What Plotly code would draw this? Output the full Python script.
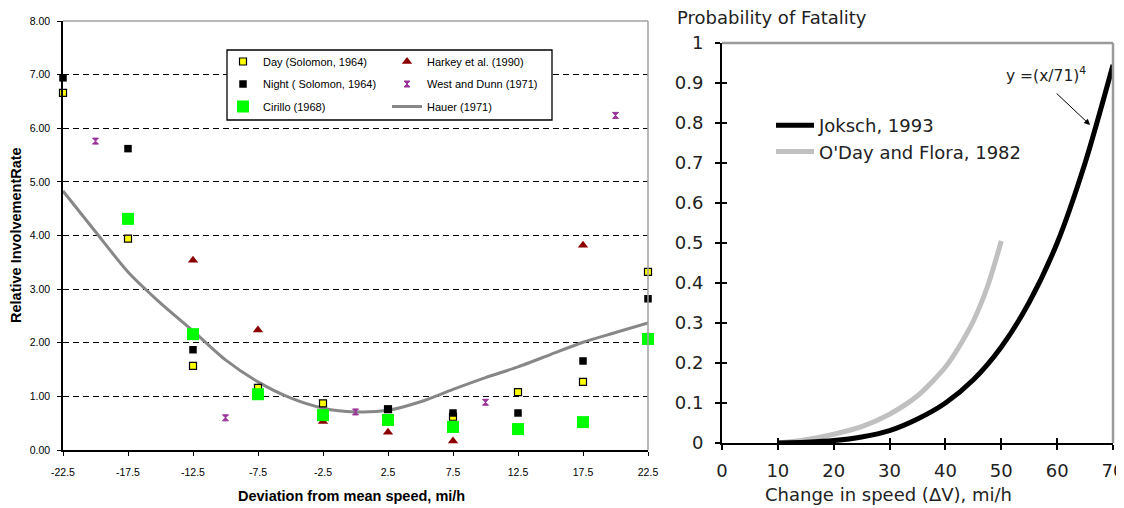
import plotly.graph_objects as go

# The page body has an 8px margin, so the figure is drawn 8px in from the window edge.
OFF = 8
W, H = 1124 - OFF, 508 - OFF

# ---------------- Left chart data ----------------
dev_ticks = [-22.5, -17.5, -12.5, -7.5, -2.5, 2.5, 7.5, 12.5, 17.5, 22.5]
dev_ticktext = ["-22.5", "-17.5", "-12.5", "-7.5", "-2.5", "2.5", "7.5", "12.5", "17.5", "22.5"]
rate_ticks = [0, 1, 2, 3, 4, 5, 6, 7, 8]

day_x = [-22.5, -17.5, -12.5, -7.5, -2.5, 2.5, 7.5, 12.5, 17.5, 22.5]
day_y = [6.66, 3.94, 1.57, 1.16, 0.87, 0.76, 0.62, 1.08, 1.27, 3.32]

night_x = [-22.5, -17.5, -12.5, -7.5, -2.5, 2.5, 7.5, 12.5, 17.5, 22.5]
night_y = [6.94, 5.62, 1.87, 1.06, 0.68, 0.76, 0.69, 0.69, 1.66, 2.82]

cirillo_x = [-17.5, -12.5, -7.5, -2.5, 2.5, 7.5, 12.5, 17.5, 22.5]
cirillo_y = [4.31, 2.16, 1.04, 0.65, 0.56, 0.43, 0.39, 0.52, 2.07]

harkey_x = [-12.5, -7.5, -2.5, 2.5, 7.5, 17.5]
harkey_y = [3.54, 2.24, 0.53, 0.33, 0.17, 3.82]

west_x = [-20, -10, 0, 10, 20]
west_y = [5.76, 0.60, 0.71, 0.89, 6.24]

hauer_x = [-22.5, -20, -17.5, -15, -12.5, -10, -7.5, -5, -2.5, 0,
           2.5, 5, 7.5, 10, 12.5, 15, 17.5, 20, 22.5]
hauer_y = [4.83, 4.07, 3.32, 2.74, 2.22, 1.68, 1.27, 0.97, 0.78, 0.71,
           0.74, 0.90, 1.13, 1.35, 1.55, 1.78, 2.01, 2.19, 2.37]

# ---------------- Right chart data ----------------
dv_joksch = [10, 15, 20, 25, 30, 35, 40, 45, 50, 55, 60, 65, 70]
pf_joksch = [0.0, 0.002, 0.006, 0.015, 0.031, 0.060, 0.100, 0.158, 0.240, 0.352, 0.50, 0.70, 0.945]

dv_oday = [10, 15, 20, 25, 30, 35, 40, 42.5, 45, 47.5, 50]
pf_oday = [0.0, 0.008, 0.022, 0.041, 0.072, 0.118, 0.19, 0.242, 0.305, 0.39, 0.505]

speed_ticks = [0, 10, 20, 30, 40, 50, 60, 70]
prob_ticks = [0, 0.1, 0.2, 0.3, 0.4, 0.5, 0.6, 0.7, 0.8, 0.9, 1]
prob_ticktext = ["0", "0.1", "0.2", "0.3", "0.4", "0.5", "0.6", "0.7", "0.8", "0.9", "1"]


def px(x):
    return (x - OFF) / W


def py(y):
    return 1 - (y - OFF) / H


LFONT = "Arial, Liberation Sans, sans-serif"
RFONT = "DejaVu Sans, Verdana, sans-serif"

fig = go.Figure()

# Left chart traces (draw order: line, day, harkey, night, west, cirillo)
fig.add_trace(go.Scatter(
    x=hauer_x, y=hauer_y, mode="lines", name="Hauer (1971)",
    line=dict(color="#878787", width=3, shape="spline", smoothing=0.7),
    xaxis="x", yaxis="y", legend="legend3", legendrank=3, legendgroup="g6", cliponaxis=False))
fig.add_trace(go.Scatter(
    x=day_x, y=day_y, mode="markers", name="Day (Solomon, 1964)",
    marker=dict(symbol="square", size=7, color="#FFFF00", line=dict(color="black", width=1.2)),
    xaxis="x", yaxis="y", legend="legend", legendrank=1, legendgroup="g1", cliponaxis=False))
fig.add_trace(go.Scatter(
    x=harkey_x, y=harkey_y, mode="markers", name="Harkey et al. (1990)",
    marker=dict(symbol="triangle-up", size=9, color="#8B0000"),
    xaxis="x", yaxis="y", legend="legend3", legendrank=1, legendgroup="g4", cliponaxis=False))
fig.add_trace(go.Scatter(
    x=night_x, y=night_y, mode="markers", name="Night ( Solomon, 1964)",
    marker=dict(symbol="square", size=7.5, color="black"),
    xaxis="x", yaxis="y", legend="legend", legendrank=2, legendgroup="g2", cliponaxis=False))
fig.add_trace(go.Scatter(
    x=west_x, y=west_y, mode="markers", name="West and Dunn (1971)",
    marker=dict(symbol="hourglass", size=6, color="#993399", line=dict(color="#993399", width=1)),
    xaxis="x", yaxis="y", legend="legend3", legendrank=2, legendgroup="g5", cliponaxis=False))
fig.add_trace(go.Scatter(
    x=cirillo_x, y=cirillo_y, mode="markers", name="Cirillo (1968)",
    marker=dict(symbol="square", size=12, color="#00FF00"),
    xaxis="x", yaxis="y", legend="legend", legendrank=3, legendgroup="g3", cliponaxis=False))

# Right chart traces
fig.add_trace(go.Scatter(
    x=dv_oday, y=pf_oday, mode="lines", name="O'Day and Flora, 1982",
    line=dict(color="#C0C0C0", width=5, shape="spline", smoothing=0.8),
    xaxis="x2", yaxis="y2", legend="legend2", legendrank=2, cliponaxis=False))
fig.add_trace(go.Scatter(
    x=dv_joksch, y=pf_joksch, mode="lines", name="Joksch, 1993",
    line=dict(color="black", width=5, shape="spline", smoothing=0.8),
    xaxis="x2", yaxis="y2", legend="legend2", legendrank=1, cliponaxis=False))
# helper (empty) trace so the crossing-tick overlay axes are drawn
fig.add_trace(go.Scatter(x=[], y=[], xaxis="x3", yaxis="y3", showlegend=False, hoverinfo="skip"))

L_x0, L_x1 = px(63), px(648)
L_y0, L_y1 = py(450), py(21)
R_x0, R_x1 = px(722), px(1113)
R_y0, R_y1 = py(443), py(43)

fig.update_layout(
    width=W, height=H,
    margin=dict(l=0, r=0, t=0, b=0),
    template="none",
    paper_bgcolor="white", plot_bgcolor="rgba(0,0,0,0)",
    font=dict(family=LFONT, color="black"),
    xaxis=dict(
        domain=[L_x0, L_x1], range=[-22.5, 22.5], anchor="y",
        tickmode="array", tickvals=dev_ticks, ticktext=dev_ticktext,
        ticks="outside", ticklen=4, tickwidth=1, tickcolor="black",
        showline=True, linecolor="black", linewidth=1.5,
        showgrid=False, zeroline=False, automargin=False,
        tickfont=dict(family=LFONT, size=10.5, color="black"),
        ticklabelstandoff=8, ticklabeloverflow="allow",
    ),
    yaxis=dict(
        domain=[L_y0, L_y1], range=[0, 8], anchor="x",
        tickmode="array", tickvals=rate_ticks, tickformat=".2f",
        ticks="outside", ticklen=4, tickwidth=1, tickcolor="black",
        showline=True, linecolor="black", linewidth=1.5,
        showgrid=True, gridcolor="black", gridwidth=1, griddash="6px,4px",
        zeroline=False, automargin=False,
        tickfont=dict(family=LFONT, size=10.5, color="black"),
        ticklabelstandoff=5, ticklabeloverflow="allow",
    ),
    xaxis2=dict(
        domain=[R_x0, R_x1], range=[0, 70], anchor="y2",
        tickmode="array", tickvals=speed_ticks,
        ticks="outside", ticklen=5, tickwidth=1.5, tickcolor="black",
        showline=True, linecolor="black", linewidth=2,
        showgrid=False, zeroline=False, automargin=False,
        tickfont=dict(family=RFONT, size=18, color="#222222"),
        ticklabelstandoff=5, ticklabeloverflow="allow",
    ),
    yaxis2=dict(
        domain=[R_y0, R_y1], range=[0, 1], anchor="x2",
        tickmode="array", tickvals=prob_ticks, ticktext=prob_ticktext,
        ticks="outside", ticklen=5, tickwidth=1.5, tickcolor="black",
        showline=True, linecolor="black", linewidth=2,
        showgrid=False, zeroline=False, automargin=False,
        tickfont=dict(family=RFONT, size=18, color="#222222"),
        ticklabelstandoff=8, ticklabeloverflow="allow",
    ),
    xaxis3=dict(
        overlaying="x2", anchor="y2", range=[0, 70], side="bottom",
        tickmode="array", tickvals=speed_ticks,
        ticks="inside", ticklen=5, tickwidth=1.5, tickcolor="black",
        showticklabels=False, showline=False, showgrid=False, zeroline=False,
    ),
    yaxis3=dict(
        overlaying="y2", anchor="x2", range=[0, 1], side="left",
        tickmode="array", tickvals=prob_ticks,
        ticks="inside", ticklen=5, tickwidth=1.5, tickcolor="black",
        showticklabels=False, showline=False, showgrid=False, zeroline=False,
    ),
    legend=dict(
        x=px(223), y=py(47), xanchor="left", yanchor="top",
        orientation="v", bgcolor="rgba(0,0,0,0)", borderwidth=0,
        font=dict(family=LFONT, size=11, color="black"),
        traceorder="grouped", itemwidth=30, tracegroupgap=3.5,
    ),
    legend3=dict(
        x=px(387), y=py(47), xanchor="left", yanchor="top",
        orientation="v", bgcolor="rgba(0,0,0,0)", borderwidth=0,
        font=dict(family=LFONT, size=11, color="black"),
        traceorder="grouped", itemwidth=30, tracegroupgap=3.5,
    ),
    legend2=dict(
        x=px(771), y=py(107), xanchor="left", yanchor="top",
        orientation="v", bgcolor="rgba(0,0,0,0)", borderwidth=0,
        font=dict(family=RFONT, size=18, color="#222222"),
        traceorder="normal", itemwidth=38,
    ),
    showlegend=True,
)

# Frames and legend box
fig.add_shape(type="line", xref="paper", yref="paper", x0=L_x0, x1=L_x1, y0=L_y1, y1=L_y1,
              line=dict(color="#A0A0A0", width=1.5), layer="above")
fig.add_shape(type="line", xref="paper", yref="paper", x0=L_x1, x1=L_x1, y0=L_y0, y1=L_y1,
              line=dict(color="#A0A0A0", width=1.5), layer="above")
fig.add_shape(type="rect", xref="paper", yref="paper",
              x0=px(227), x1=px(552), y0=py(120), y1=py(50),
              line=dict(color="black", width=1.3), fillcolor="white", layer="above")
fig.add_shape(type="line", xref="paper", yref="paper", x0=R_x0, x1=R_x1, y0=R_y1, y1=R_y1,
              line=dict(color="#9A9A9A", width=2.5), layer="above")
fig.add_shape(type="line", xref="paper", yref="paper", x0=R_x1, x1=R_x1, y0=R_y0, y1=R_y1,
              line=dict(color="#9A9A9A", width=2.5), layer="above")

# Titles
fig.add_annotation(text="<b>Relative InvolvementRate</b>", xref="paper", yref="paper",
                   x=px(16), y=py(235), xanchor="center", yanchor="middle",
                   textangle=-90, showarrow=False,
                   font=dict(family=LFONT, size=14.5, color="black"))
fig.add_annotation(text="<b>Deviation from mean speed, mi/h</b>", xref="paper", yref="paper",
                   x=px(351), y=py(496), xanchor="center", yanchor="middle", showarrow=False,
                   font=dict(family=LFONT, size=14.5, color="black"))
fig.add_annotation(text="Probability of Fatality", xref="paper", yref="paper",
                   x=px(675), y=py(17), xanchor="left", yanchor="middle", showarrow=False,
                   font=dict(family=RFONT, size=18, color="#222222"))
fig.add_annotation(text="Change in speed (\u0394V), mi/h", xref="paper", yref="paper",
                   x=px(888), y=py(494), xanchor="center", yanchor="middle", showarrow=False,
                   font=dict(family=RFONT, size=18, color="#222222"))
fig.add_annotation(text="y =(x/71)<sup>4</sup>", xref="paper", yref="paper",
                   x=px(1004), y=py(74), xanchor="left", yanchor="middle", showarrow=False,
                   font=dict(family=RFONT, size=15.5, color="#222222"))
fig.add_annotation(text="", xref="x2", yref="y2", x=65.9, y=0.795,
                   ax=-35, ay=-33, axref="pixel", ayref="pixel",
                   showarrow=True, arrowhead=2, arrowsize=1.2, arrowwidth=1, arrowcolor="black")

fig.write_html("out.html")
